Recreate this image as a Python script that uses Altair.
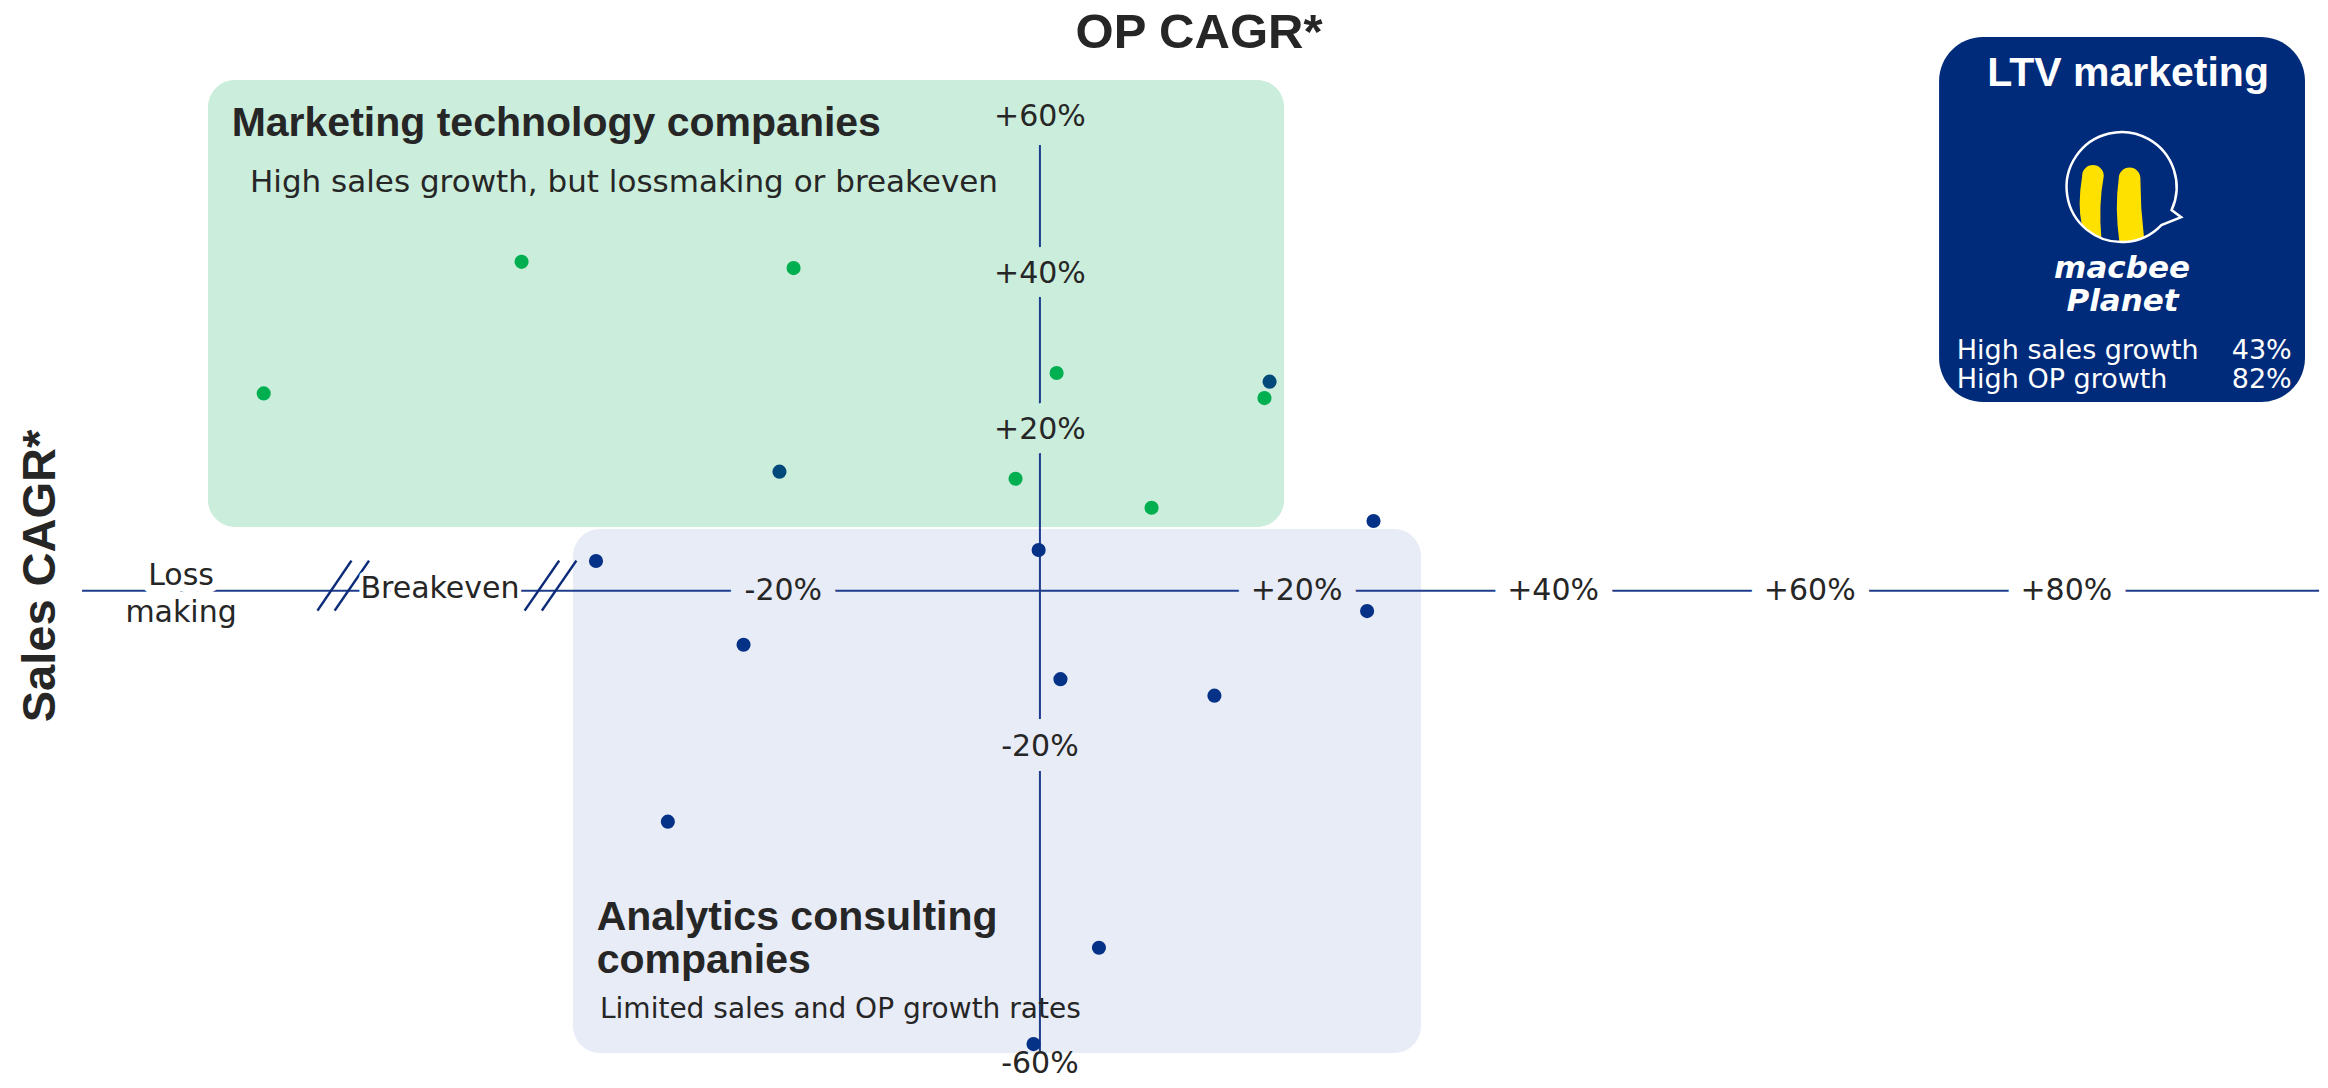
import altair as alt
import pandas as pd

# ---------------- data (OP CAGR %, Sales CAGR %) ----------------
# companies in the "Loss making" / "Breakeven" bands sit at their plotted band position on x
MT_OP = [-60.5, -40.4, -19.2, 1.3, -1.9, 8.7, 17.5]
MT_SALES = [25.2, 42.0, 41.2, 27.8, 14.3, 10.6, 24.6]
MID_OP = [-20.3, 17.9]
MID_SALES = [15.2, 26.7]
AC_OP = [-0.1, -34.6, -29.0, -23.1, 1.6, 13.6, 4.6, -0.5, 26.0, 25.5]
AC_SALES = [5.2, 3.8, -29.5, -6.9, -11.3, -13.4, -45.6, -57.9, 8.9, -2.6]

X_TICKS = [-20, 20, 40, 60, 80]
X_TICK_LABELS = ["-20%", "+20%", "+40%", "+60%", "+80%"]
Y_TICKS = [60, 40, 20, -20, -60]
Y_TICK_LABELS = ["+60%", "+40%", "+20%", "-20%", "-60%"]
LTV_ROWS = ["High sales growth", "High OP growth"]
LTV_VALUES = ["43%", "82%"]

# ---------------- styles ----------------
GREEN_BOX = "#CBEDDB"
BLUE_BOX = "#E8ECF7"
NAVY_BOX = "#002A7A"
AXIS_COL = "#1E3C8C"
TXT = "#262626"
REG = "DejaVu Sans"
BOLD = "Liberation Sans"

XS = alt.Scale(domain=[-80.43, 99.77], nice=False, zero=False)
YS = alt.Scale(domain=[-62.49, 74.42], nice=False, zero=False)


def X(f="x"):
    return alt.X(f"{f}:Q", scale=XS, axis=None)


def Y(f="y"):
    return alt.Y(f"{f}:Q", scale=YS, axis=None)


layers = []

# ---------------- quadrant boxes ----------------
def box(x, x2, y, y2, color, r):
    df = pd.DataFrame({"x": [x], "x2": [x2], "y": [y], "y2": [y2]})
    return alt.Chart(df).mark_rect(color=color, cornerRadius=r).encode(
        x=X(), x2="x2:Q", y=Y(), y2="y2:Q")

layers.append(box(-64.84, 19.03, 65.22, 8.14, GREEN_BOX, 27))
layers.append(box(-36.39, 29.70, 7.88, -59.04, BLUE_BOX, 27))
layers.append(box(70.08, 98.60, 70.71, 24.10, NAVY_BOX, 44))

# ---------------- axis lines ----------------
hline = pd.DataFrame({"x": [-74.66], "x2": [99.70], "y": [0]})
vline = pd.DataFrame({"x": [0], "y": [56.92], "y2": [-59.04]})
layers.append(alt.Chart(hline).mark_rule(color=AXIS_COL, strokeWidth=2).encode(x=X(), x2="x2:Q", y=Y()))
layers.append(alt.Chart(vline).mark_rule(color=AXIS_COL, strokeWidth=2).encode(x=X(), y=Y(), y2="y2:Q"))

# axis break marks "//"
brk = pd.DataFrame({
    "x": [-56.31, -54.97, -40.16, -38.82],
    "x2": [-53.66, -52.29, -37.47, -36.13],
    "y": [-2.54, -2.54, -2.54, -2.54],
    "y2": [3.84, 3.84, 3.84, 3.84],
})
layers.append(alt.Chart(brk).mark_rule(color="#0B2A78", strokeWidth=2.5).encode(
    x=X(), y=Y(), x2="x2:Q", y2="y2:Q"))

# ---------------- axis tick labels (with halo that cuts the axis line) ----------------
def label_pos(t):
    if t > 0:
        return t + 0.5
    if t == -60:
        return -60.5
    return t

ax_df = pd.DataFrame({
    "label": X_TICK_LABELS + Y_TICK_LABELS,
    "x": X_TICKS + [0] * len(Y_TICKS),
    "y": [0] * len(X_TICKS) + [label_pos(t) for t in Y_TICKS],
    "bg": [BLUE_BOX, BLUE_BOX, "white", "white", "white",
           GREEN_BOX, GREEN_BOX, GREEN_BOX, BLUE_BOX, "white"],
    "hw": [30, 30, 30, 30, 30, 30, 30, 30, 30, 0],
})
layers.append(alt.Chart(ax_df).mark_text(font=REG, fontSize=30, align="center", baseline="middle",
                                         strokeJoin="round").encode(
    x=X(), y=Y(), text="label:N",
    color=alt.Color("bg:N", scale=None), stroke=alt.Stroke("bg:N", scale=None),
    strokeWidth=alt.StrokeWidth("hw:Q", scale=None)))
layers.append(alt.Chart(ax_df).mark_text(font=REG, fontSize=30, align="center", baseline="middle",
                                         color=TXT).encode(x=X(), y=Y(), text="label:N"))

# band labels left of the axis break
band_df = pd.DataFrame({
    "label": ["Loss", "making", "Breakeven"],
    "x": [-66.94, -66.94, -46.76],
    "y": [0.73, -3.95, -0.87],
    "hw": [16, 0, 8],
})
layers.append(alt.Chart(band_df).mark_text(font=REG, fontSize=30, align="center", baseline="alphabetic",
                                           color="white", stroke="white", strokeJoin="round").encode(
    x=X(), y=Y(), text="label:N", strokeWidth=alt.StrokeWidth("hw:Q", scale=None)))
layers.append(alt.Chart(band_df).mark_text(font=REG, fontSize=30, align="center", baseline="alphabetic",
                                           color=TXT).encode(x=X(), y=Y(), text="label:N"))

# ---------------- company dots ----------------
dots = pd.DataFrame({
    "x": MT_OP + MID_OP + AC_OP,
    "y": MT_SALES + MID_SALES + AC_SALES,
    "grp": ["Marketing technology"] * len(MT_OP) + ["Mixed"] * len(MID_OP)
           + ["Analytics consulting"] * len(AC_OP),
})
layers.append(alt.Chart(dots).mark_circle(size=200, opacity=1).encode(
    x=X(), y=Y(),
    color=alt.Color("grp:N", legend=None, scale=alt.Scale(
        domain=["Marketing technology", "Mixed", "Analytics consulting"],
        range=["#00B050", "#00497A", "#053287"]))))

# ---------------- titles & annotations ----------------
def txt(label, x, y, **kw):
    df = pd.DataFrame({"label": [label], "x": [x], "y": [y]})
    return alt.Chart(df).mark_text(**kw).encode(x=X(), y=Y(), text="label:N")

layers.append(txt("OP CAGR*", 12.40, 69.25, font=BOLD, fontWeight="bold", fontSize=49,
                  align="center", baseline="alphabetic", color=TXT))
layers.append(txt("Sales CAGR*", -76.73, 1.88, font=BOLD, fontWeight="bold", fontSize=47, angle=270,
                  align="center", baseline="alphabetic", color=TXT))
layers.append(txt("Marketing technology companies", -63.0, 58.02, font=BOLD, fontWeight="bold",
                  fontSize=41, align="left", baseline="alphabetic", color=TXT))
layers.append(txt("High sales growth, but lossmaking or breakeven", -61.57, 50.92, font=REG,
                  fontSize=31, align="left", baseline="alphabetic", color=TXT))
layers.append(txt("Analytics consulting", -34.55, -43.31, font=BOLD, fontWeight="bold",
                  fontSize=41, align="left", baseline="alphabetic", color=TXT))
layers.append(txt("companies", -34.55, -48.80, font=BOLD, fontWeight="bold",
                  fontSize=41, align="left", baseline="alphabetic", color=TXT))
layers.append(txt("Limited sales and OP growth rates", -34.29, -54.52, font=REG,
                  fontSize=28, align="left", baseline="alphabetic", color=TXT))

# ---------------- LTV marketing panel ----------------
layers.append(txt("LTV marketing", 84.81, 64.46, font=BOLD, fontWeight="bold", fontSize=41,
                  align="center", baseline="alphabetic", color="white"))

BUBBLE = "M 0.66 0.64 A 0.917 0.917 0 1 1 0.83 0.39 L 0.99 0.51 Z"
STRIPES = ("M -0.66 -0.18 Q -0.74 0.3 -0.667 0.63 A 0.917 0.917 0 0 0 -0.34 0.85 "
           "Q -0.39 0.3 -0.30 -0.18 A 0.18 0.18 0 0 0 -0.66 -0.18 Z "
           "M -0.05 -0.14 Q -0.12 0.35 -0.04 0.916 A 0.917 0.917 0 0 0 0.37 0.838 "
           "Q 0.31 0.35 0.31 -0.14 A 0.18 0.18 0 0 0 -0.05 -0.14 Z")
logo = pd.DataFrame({"x": [84.32], "y": [51.60]})
layers.append(alt.Chart(logo).mark_point(shape=STRIPES, size=14400, filled=True, color="#FFE100",
                                         opacity=1, strokeWidth=0).encode(x=X(), y=Y()))
layers.append(alt.Chart(logo).mark_point(shape=BUBBLE, size=14400, filled=False, color="white",
                                         opacity=1, strokeWidth=2.5).encode(x=X(), y=Y()))
layers.append(txt("macbee", 84.34, 39.94, font=REG, fontWeight="bold", fontStyle="italic", fontSize=31,
                  align="center", baseline="alphabetic", color="white"))
layers.append(txt("Planet", 84.38, 35.76, font=REG, fontWeight="bold", fontStyle="italic", fontSize=31,
                  align="center", baseline="alphabetic", color="white"))

ltv = pd.DataFrame({"label": LTV_ROWS, "val": LTV_VALUES, "y": [29.59, 25.85],
                    "x": [71.46, 71.46], "xr": [97.57, 97.57]})
layers.append(alt.Chart(ltv).mark_text(font=REG, fontSize=27, align="left", baseline="alphabetic",
                                       color="white").encode(x=X(), y=Y(), text="label:N"))
layers.append(alt.Chart(ltv).mark_text(font=REG, fontSize=27, align="right", baseline="alphabetic",
                                       color="white").encode(x=X("xr"), y=Y(), text="val:N"))

chart = alt.layer(*layers).properties(
    width=2312, height=1072, padding=0,
    autosize=alt.AutoSizeParams(type="none"), background="white",
).configure_view(stroke=None)

chart.save("out.html", embed_options={"renderer": "svg", "actions": False})
